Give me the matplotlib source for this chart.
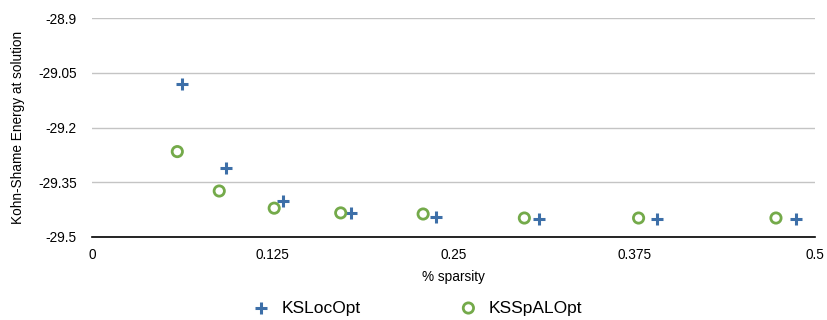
import matplotlib
matplotlib.use("Agg")
import matplotlib.pyplot as plt

plt.rcParams['font.family'] = ['Liberation Sans', 'DejaVu Sans']

# KSLocOpt (+)
loc_x = [0.0625, 0.093, 0.132, 0.179, 0.238, 0.309, 0.391, 0.487]
loc_y = [-29.082, -29.310, -29.401, -29.434, -29.445, -29.451, -29.451, -29.451]

# KSSpALOpt (o)
spal_x = [0.059, 0.088, 0.126, 0.172, 0.229, 0.299, 0.378, 0.473]
spal_y = [-29.266, -29.374, -29.421, -29.434, -29.437, -29.448, -29.448, -29.448]

xticks = [0, 0.125, 0.25, 0.375, 0.5]
xticklabels = ['0', '0.125', '0.25', '0.375', '0.5']
yticks = [-29.5, -29.35, -29.2, -29.05, -28.9]
yticklabels = ['-29.5', '-29.35', '-29.2', '-29.05', '-28.9']

blue = '#3d6fa8'
green = '#74aa4a'

fig = plt.figure(figsize=(8.27, 3.2), dpi=100)
ax = fig.add_axes([92/827, 1 - 237/320, (815-92)/827, (237-18)/320])

ax.scatter(loc_x, loc_y, marker='+', s=80, linewidths=2.2, color=blue,
           label='KSLocOpt', zorder=3)
ax.scatter(spal_x, spal_y, marker='o', s=55, facecolors='none',
           edgecolors=green, linewidths=2.0, label='KSSpALOpt', zorder=3)

ax.set_xlim(0, 0.5)
ax.set_ylim(-29.5, -28.9)
ax.set_xticks(xticks)
ax.set_xticklabels(xticklabels, fontsize=9.8)
ax.set_yticks(yticks)
ax.set_yticklabels(yticklabels, fontsize=9.8)
ax.tick_params(length=0, pad=8)
ax.tick_params(axis='y', pad=11)

ax.grid(axis='y', color='#c4c4c4', linewidth=1.0)
ax.set_axisbelow(True)
for s in ['top', 'right', 'left']:
    ax.spines[s].set_visible(False)
ax.spines['bottom'].set_color('black')
ax.spines['bottom'].set_linewidth(1.2)

ax.set_xlabel('% sparsity', fontsize=9.8, labelpad=6)
ax.set_ylabel('Kohn-Shame Energy at solution', fontsize=9.8, labelpad=9)

fig.legend(loc='lower center', bbox_to_anchor=(0.4995, -0.035), ncol=2,
           frameon=False, fontsize=12.5, columnspacing=5.2, handletextpad=0.17)

fig.savefig('out.png', dpi=100)
